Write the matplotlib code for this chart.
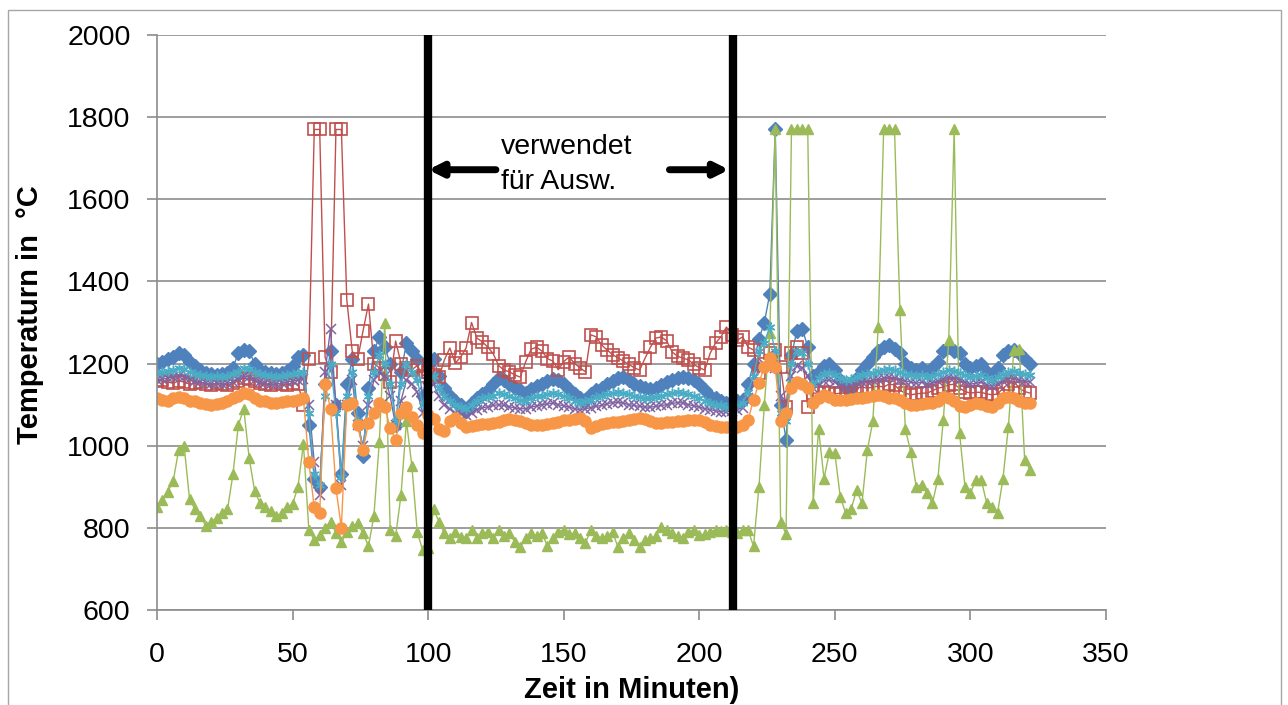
import numpy as np
import matplotlib
matplotlib.use("Agg")
import matplotlib.pyplot as plt
from matplotlib.patches import Rectangle

plt.rcParams['font.family'] = ['Liberation Sans', 'DejaVu Sans']

# time axis (minutes), 2-minute sampling
zeit = np.arange(0, 323, 2)

blau = [
    1200, 1205, 1210, 1215, 1226, 1220, 1205, 1195, 1185, 1178,
    1175, 1172, 1175, 1178, 1190, 1225, 1232, 1230, 1200, 1185,
    1180, 1178, 1175, 1178, 1182, 1195, 1215, 1220, 1050, 920,
    900, 1150, 1230, 1100, 930, 1150, 1210, 1080, 975, 1140,
    1230, 1265, 1240, 1200, 1050, 1180, 1250, 1230, 1210, 1120,
    1200, 1210, 1170, 1140, 1120, 1110, 1100, 1085, 1105, 1115,
    1125, 1135, 1150, 1165, 1160, 1150, 1140, 1135, 1128, 1138,
    1145, 1150, 1158, 1162, 1160, 1150, 1138, 1125, 1115, 1112,
    1125, 1135, 1140, 1150, 1158, 1165, 1168, 1160, 1150, 1145,
    1140, 1138, 1140, 1148, 1155, 1160, 1165, 1168, 1165, 1160,
    1150, 1135, 1120, 1115, 1110, 1105, 1110, 1108, 1112, 1150,
    1200, 1260, 1300, 1370, 1770, 1100, 1015, 1220, 1280, 1285,
    1240, 1170, 1180, 1195, 1200, 1185, 1160, 1140, 1140, 1165,
    1185, 1200, 1215, 1230, 1240, 1245, 1235, 1225, 1200, 1190,
    1185, 1190, 1180, 1190, 1205, 1230, 1240, 1230, 1225, 1200,
    1190, 1195, 1200, 1180, 1170, 1190, 1220, 1230, 1232, 1225, 1210, 1200,
]

rot = [
    1158, 1160, 1155, 1152, 1158, 1155, 1150, 1152, 1155, 1150,
    1148, 1152, 1150, 1148, 1152, 1158, 1165, 1162, 1158, 1152,
    1150, 1148, 1152, 1150, 1148, 1152, 1150, 1100, 1210, 1770,
    1770, 1215, 1180, 1770, 1770, 1355, 1230, 1210, 1280, 1345,
    1200, 1190, 1175, 1155, 1255, 1200, 1190, 1185, 1195, 1170,
    1180, 1172, 1167, 1209, 1238, 1201, 1216, 1238, 1300, 1262,
    1253, 1240, 1224, 1195, 1184, 1180, 1172, 1167, 1205, 1235,
    1240, 1230, 1212, 1206, 1185, 1205, 1216, 1200, 1190, 1180,
    1270, 1265, 1245, 1233, 1222, 1214, 1206, 1198, 1190, 1184,
    1213, 1240, 1262, 1265, 1255, 1228, 1218, 1213, 1209, 1198,
    1190, 1184, 1225, 1250, 1265, 1289, 1270, 1257, 1265, 1240,
    1233, 1177, 1200, 1226, 1233, 1192, 1094, 1226, 1240, 1226,
    1094, 1128, 1128, 1130, 1128, 1126, 1128, 1128, 1135, 1140,
    1143, 1140, 1143, 1145, 1143, 1150, 1148, 1135, 1128, 1124,
    1126, 1128, 1128, 1134, 1140, 1143, 1148, 1150, 1140, 1132,
    1128, 1130, 1130, 1126, 1124, 1126, 1140, 1150, 1157, 1140, 1132, 1128,
]

gruen = [
    850, 868, 888, 915, 990, 1000, 870, 845, 828, 805,
    815, 825, 835, 845, 930, 1050, 1090, 970, 890, 860,
    850, 840, 828, 835, 850, 858, 900, 1005, 795, 770,
    782, 800, 815, 787, 765, 790, 805, 811, 787, 755,
    830, 1010, 1300, 795, 780, 880, 1060, 950, 790, 745,
    750, 845, 815, 787, 775, 790, 778, 776, 795, 775,
    787, 790, 775, 795, 780, 787, 765, 753, 775, 787,
    780, 787, 755, 775, 790, 795, 785, 787, 775, 763,
    795, 780, 775, 779, 790, 753, 775, 787, 770, 753,
    770, 775, 780, 802, 795, 787, 780, 775, 790, 795,
    782, 785, 790, 795, 792, 795, 790, 787, 795, 795,
    755, 900, 1100, 1275, 1770, 815, 785, 1770, 1770, 1770,
    1770, 860, 1040, 920, 985, 982, 875, 836, 845, 892,
    860, 990, 1060, 1290, 1770, 1770, 1770, 1330, 1040, 985,
    900, 905, 885, 860, 920, 1063, 1257, 1770, 1030, 900,
    885, 917, 917, 860, 851, 836, 920, 1046, 1233, 1236, 965, 941,
]

lila = [
    1160, 1162, 1165, 1168, 1170, 1168, 1162, 1158, 1155, 1152,
    1150, 1152, 1150, 1152, 1155, 1162, 1170, 1168, 1160, 1155,
    1152, 1150, 1150, 1152, 1155, 1158, 1160, 1162, 1100, 960,
    880, 1180, 1285, 1100, 905, 1100, 1160, 1050, 1000, 1100,
    1160, 1180, 1170, 1120, 1050, 1110, 1160, 1150, 1130, 1080,
    1140, 1150, 1120, 1100, 1090, 1080, 1078, 1075, 1080, 1088,
    1092, 1095, 1098, 1100, 1098, 1095, 1092, 1090, 1090, 1094,
    1097, 1100, 1102, 1104, 1100, 1097, 1094, 1090, 1088, 1090,
    1093, 1096, 1098, 1102, 1105, 1106, 1104, 1100, 1098, 1096,
    1094, 1094, 1096, 1098, 1100, 1103, 1105, 1104, 1100, 1097,
    1094, 1090, 1088, 1085, 1083, 1082, 1085, 1088, 1092, 1115,
    1150, 1190, 1200, 1210, 1190, 1120, 1080, 1170, 1195, 1190,
    1170, 1140, 1150, 1158, 1160, 1155, 1150, 1145, 1148, 1152,
    1155, 1158, 1160, 1162, 1165, 1168, 1165, 1160, 1158, 1155,
    1152, 1155, 1150, 1152, 1158, 1162, 1168, 1165, 1160, 1155,
    1150, 1152, 1155, 1148, 1145, 1150, 1158, 1162, 1165, 1160, 1158, 1155,
]

tuerkis = [
    1178, 1180, 1182, 1185, 1190, 1188, 1180, 1175, 1172, 1170,
    1168, 1170, 1168, 1170, 1175, 1180, 1190, 1188, 1180, 1175,
    1172, 1170, 1168, 1170, 1172, 1175, 1178, 1180, 1080, 930,
    905, 1120, 1200, 1080, 925, 1120, 1180, 1060, 990, 1120,
    1180, 1220, 1200, 1150, 1060, 1150, 1200, 1180, 1160, 1100,
    1160, 1170, 1140, 1120, 1110, 1100, 1095, 1090, 1100, 1110,
    1115, 1118, 1122, 1128, 1125, 1120, 1115, 1112, 1110, 1115,
    1120, 1122, 1125, 1128, 1125, 1120, 1115, 1110, 1105, 1108,
    1112, 1118, 1120, 1125, 1128, 1130, 1128, 1125, 1120, 1118,
    1115, 1115, 1118, 1122, 1125, 1128, 1130, 1128, 1125, 1120,
    1115, 1110, 1105, 1100, 1098, 1095, 1098, 1100, 1105, 1130,
    1170, 1230, 1250, 1290, 1230, 1080, 1060, 1200, 1230, 1225,
    1200, 1150, 1165, 1175, 1178, 1172, 1165, 1160, 1162, 1168,
    1172, 1175, 1178, 1182, 1185, 1188, 1185, 1180, 1175, 1172,
    1170, 1172, 1168, 1170, 1175, 1180, 1185, 1182, 1178, 1172,
    1168, 1170, 1172, 1165, 1160, 1168, 1175, 1180, 1182, 1178, 1175, 1172,
]

orange = [
    1115, 1112, 1110, 1115, 1118, 1115, 1110, 1108, 1105, 1102,
    1100, 1102, 1105, 1108, 1115, 1122, 1128, 1125, 1115, 1110,
    1108, 1105, 1104, 1106, 1108, 1110, 1112, 1115, 960, 850,
    836, 1150, 1090, 897, 800, 1100, 1104, 1050, 990, 1055,
    1080, 1105, 1095, 1043, 1014, 1080, 1094, 1070, 1050, 1030,
    1075, 1065, 1040, 1035, 1060, 1068, 1055, 1046, 1048, 1050,
    1052, 1054, 1055, 1058, 1062, 1064, 1063, 1060, 1055, 1050,
    1050, 1050, 1052, 1056, 1058, 1062, 1063, 1065, 1067, 1060,
    1043, 1048, 1052, 1055, 1057, 1058, 1060, 1062, 1065, 1067,
    1065, 1060, 1055, 1055, 1057, 1058, 1060, 1060, 1062, 1063,
    1063, 1058, 1050, 1048, 1046, 1045, 1046, 1046, 1050, 1063,
    1111, 1153, 1192, 1214, 1192, 1060, 1080, 1140, 1155, 1150,
    1140, 1104, 1115, 1123, 1118, 1112, 1111, 1112, 1114, 1116,
    1116, 1118, 1120, 1123, 1120, 1116, 1116, 1112, 1105, 1099,
    1100, 1102, 1103, 1104, 1110, 1119, 1115, 1108, 1096, 1094,
    1100, 1104, 1102, 1096, 1094, 1105, 1115, 1119, 1115, 1108, 1105, 1104,
]

x_ticks = [0, 50, 100, 150, 200, 250, 300, 350]
y_ticks = [600, 800, 1000, 1200, 1400, 1600, 1800, 2000]
grenzen = [100, 212.5]

W, H = 1288, 705
fig = plt.figure(figsize=(W / 100, H / 100), dpi=100)
fig.patches.append(Rectangle((8 / W, -0.01), (1281 - 8) / W, 1.01 - 10 / H,
                             transform=fig.transFigure, fill=False,
                             edgecolor='#a6a6a6', lw=1.0))

ax = fig.add_axes([157 / W, (H - 610) / H, (1106 - 157) / W, (610 - 35) / H])

grid_c = '#8c8c8c'
ax.set_xlim(0, 350)
ax.set_ylim(600, 2000)
ax.set_xticks(x_ticks)
ax.set_yticks(y_ticks)
ax.yaxis.grid(True, color=grid_c, lw=1.2)
ax.set_axisbelow(True)
for s in ['top', 'right']:
    ax.spines[s].set_visible(False)
for s in ['left', 'bottom']:
    ax.spines[s].set_color(grid_c)
    ax.spines[s].set_linewidth(1.2)
ax.tick_params(axis='y', direction='out', length=7, color=grid_c, width=1.2,
               labelsize=20.5, pad=12)
ax.tick_params(axis='x', direction='out', length=7, color=grid_c, width=1.2,
               labelsize=20.5, pad=16)

lw = 1.0
ax.plot(zeit, blau, color='#4f81bd', lw=lw, marker='D', ms=7,
        mec='#4f81bd', mfc='#4f81bd')
ax.plot(zeit, rot, color='#c0504d', lw=lw, marker='s', ms=8,
        mec='#c0504d', mfc='none', mew=1.2)
ax.plot(zeit, gruen, color='#9bbb59', lw=lw, marker='^', ms=7.5,
        mec='#9bbb59', mfc='#9bbb59')
ax.plot(zeit, lila, color='#8064a2', lw=lw, marker='x', ms=6.5,
        mec='#8064a2', mew=1.1)
ax.plot(zeit, tuerkis, color='#4bacc6', lw=lw, marker=(6, 2, 0), ms=7,
        mec='#4bacc6', mew=1.1)
ax.plot(zeit, orange, color='#f79646', lw=lw, marker='o', ms=8,
        mec='#f79646', mfc='#f79646')

for g in grenzen:
    ax.axvline(g, color='black', lw=6, zorder=5)

arrow_y = 1672
ax.annotate('', xy=(100, arrow_y), xytext=(125, arrow_y),
            arrowprops=dict(arrowstyle='-|>', color='black', lw=5,
                            mutation_scale=20, shrinkA=0, shrinkB=0), zorder=6)
ax.annotate('', xy=(211, arrow_y), xytext=(189, arrow_y),
            arrowprops=dict(arrowstyle='-|>', color='black', lw=5,
                            mutation_scale=20, shrinkA=0, shrinkB=0), zorder=6)
ax.text(127, 1728, 'verwendet', fontsize=20.5, ha='left', va='center', zorder=6)
ax.text(127, 1643, 'für Ausw.', fontsize=20.5, ha='left', va='center', zorder=6)

fig.text(30 / W, 1 - 315 / H, 'Temperaturn in  °C', rotation=90, fontsize=21,
         fontweight='bold', ha='center', va='center')
fig.text(632 / W, 1 - 690 / H, 'Zeit in Minuten)', fontsize=21,
         fontweight='bold', ha='center', va='center')

fig.savefig('out.png', dpi=100)
